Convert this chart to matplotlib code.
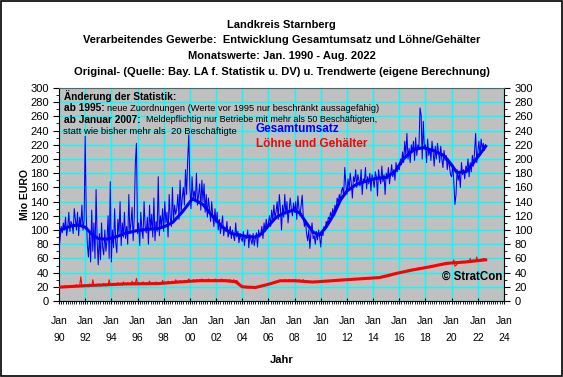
import numpy as np
import matplotlib
matplotlib.use("Agg")
import matplotlib.pyplot as plt
from matplotlib.patches import Rectangle

plt.rcParams["font.family"] = ["Liberation Sans", "DejaVu Sans"]

# --- data: monthly values Jan 1990 - Aug 2022 (Mio EURO) ---
umsatz_by_year = [
    [70, 88, 105, 96, 110, 100, 118, 92, 104, 125, 98, 112],      # 1990
    [108, 95, 130, 115, 100, 125, 92, 118, 105, 135, 100, 112],   # 1991
    [232, 120, 80, 62, 95, 55, 128, 70, 110, 60, 157, 85],        # 1992
    [51, 95, 58, 110, 75, 65, 100, 70, 85, 120, 60, 168],         # 1993
    [55, 100, 75, 130, 82, 68, 115, 95, 140, 78, 110, 90],        # 1994
    [125, 88, 105, 80, 150, 95, 110, 132, 85, 118, 195, 222],     # 1995
    [95, 110, 78, 125, 100, 88, 140, 105, 96, 118, 80, 135],      # 1996
    [100, 122, 90, 145, 85, 112, 98, 175, 92, 120, 105, 130],     # 1997
    [98, 140, 110, 125, 90, 150, 118, 105, 160, 112, 135, 122],   # 1998
    [130, 150, 115, 170, 125, 145, 160, 135, 185, 150, 200, 234], # 1999
    [160, 130, 175, 145, 155, 140, 180, 135, 150, 165, 128, 170], # 2000
    [140, 165, 125, 150, 118, 145, 130, 112, 140, 120, 105, 130], # 2001
    [110, 125, 100, 115, 95, 108, 120, 92, 104, 98, 112, 90],     # 2002
    [96, 105, 88, 100, 92, 85, 110, 90, 98, 82, 95, 88],          # 2003
    [84, 98, 78, 92, 88, 100, 75, 94, 86, 80, 95, 78],            # 2004
    [88, 96, 76, 100, 90, 95, 105, 88, 110, 98, 115, 102],        # 2005
    [110, 120, 105, 128, 112, 135, 118, 125, 140, 115, 150, 130], # 2006
    [100, 135, 118, 150, 122, 140, 110, 128, 145, 130, 120, 138], # 2007
    [125, 140, 115, 148, 130, 120, 135, 149, 118, 105, 112, 95],  # 2008
    [85, 100, 74, 95, 110, 88, 92, 80, 98, 86, 100, 90],          # 2009
    [76, 98, 92, 105, 100, 112, 108, 118, 115, 125, 118, 130],    # 2010
    [120, 135, 128, 145, 138, 150, 142, 155, 160, 148, 188, 165], # 2011
    [150, 172, 158, 180, 165, 145, 175, 168, 185, 160, 178, 170], # 2012
    [162, 185, 150, 172, 168, 188, 158, 175, 165, 180, 155, 178], # 2013
    [170, 160, 182, 175, 148, 185, 172, 165, 190, 168, 178, 150], # 2014
    [180, 172, 188, 165, 178, 192, 175, 185, 170, 195, 182, 188], # 2015
    [185, 200, 192, 210, 195, 225, 205, 236, 200, 215, 195, 220], # 2016
    [210, 225, 198, 230, 205, 220, 215, 272, 262, 200, 253, 215], # 2017
    [220, 195, 228, 205, 215, 198, 225, 210, 190, 218, 200, 222], # 2018
    [210, 195, 218, 200, 188, 212, 198, 205, 185, 200, 190, 178], # 2019
    [175, 192, 168, 136, 150, 185, 170, 180, 160, 195, 178, 185], # 2020
    [172, 190, 185, 200, 175, 195, 182, 205, 190, 210, 236, 195], # 2021
    [210, 225, 205, 228, 215, 222, 212, 220],                     # 2022
]

loehne_by_year = [
    [19, 20, 19, 21, 20, 20, 22, 19, 20, 21, 20, 22],
    [21, 20, 22, 21, 23, 21, 20, 22, 34, 22, 21, 23],
    [22, 21, 23, 20, 24, 22, 21, 30, 22, 23, 21, 24],
    [22, 24, 21, 23, 22, 25, 23, 21, 24, 22, 30, 23],
    [23, 22, 25, 23, 24, 22, 26, 23, 24, 25, 22, 27],
    [24, 25, 23, 26, 24, 25, 23, 28, 24, 26, 25, 32],
    [24, 26, 23, 25, 24, 27, 25, 24, 26, 23, 25, 28],
    [25, 24, 26, 25, 23, 27, 25, 24, 26, 25, 24, 29],
    [25, 27, 26, 25, 28, 26, 27, 25, 28, 27, 26, 30],
    [27, 28, 26, 29, 27, 28, 27, 29, 28, 27, 29, 31],
    [28, 29, 28, 30, 29, 28, 30, 29, 28, 30, 29, 31],
    [29, 30, 28, 30, 29, 31, 29, 30, 28, 30, 29, 31],
    [29, 30, 29, 30, 29, 31, 29, 30, 29, 30, 28, 30],
    [29, 30, 29, 28, 30, 29, 28, 29, 27, 25, 22, 21],
    [20, 21, 19, 20, 18, 19, 20, 18, 19, 20, 18, 19],
    [18, 19, 20, 19, 20, 21, 20, 22, 21, 23, 22, 24],
    [23, 24, 25, 24, 26, 25, 27, 26, 28, 27, 29, 28],
    [28, 29, 28, 30, 29, 28, 29, 30, 29, 28, 30, 29],
    [29, 30, 29, 28, 30, 29, 28, 29, 30, 28, 29, 28],
    [27, 28, 26, 27, 26, 27, 28, 26, 27, 26, 27, 28],
    [27, 28, 27, 28, 27, 29, 28, 27, 28, 29, 28, 29],
    [28, 29, 30, 29, 28, 30, 29, 31, 30, 29, 30, 31],
    [29, 30, 31, 30, 29, 31, 30, 32, 31, 30, 31, 32],
    [31, 32, 31, 33, 32, 31, 32, 33, 32, 31, 33, 32],
    [32, 33, 32, 34, 33, 32, 34, 33, 35, 34, 33, 35],
    [34, 35, 34, 36, 35, 37, 36, 38, 37, 39, 38, 40],
    [39, 40, 41, 40, 42, 41, 43, 42, 44, 43, 42, 45],
    [43, 44, 45, 44, 46, 45, 47, 46, 45, 47, 46, 48],
    [47, 48, 47, 49, 48, 50, 49, 48, 50, 49, 51, 50],
    [50, 51, 50, 52, 51, 53, 52, 51, 53, 52, 54, 53],
    [53, 54, 58, 49, 50, 52, 54, 53, 55, 54, 56, 55],
    [54, 56, 55, 57, 55, 60, 56, 57, 58, 56, 57, 62],
    [57, 58, 57, 59, 58, 60, 59, 58],
]

# trend values (own calculation), read at decimal years
umsatz_trend_x = [1990.0, 1990.5, 1991.0, 1991.5, 1992.0, 1992.5, 1993.0, 1993.6, 1994.3,
                  1995.0, 1995.9, 1996.8, 1997.6, 1998.2, 1998.7, 1999.4, 2000.2, 2001.0,
                  2001.7, 2002.5, 2003.2, 2004.3, 2005.0, 2005.5, 2006.0, 2006.6, 2007.2,
                  2007.9, 2008.4, 2008.9, 2009.4, 2009.9, 2010.4, 2011.0, 2011.5, 2012.0,
                  2012.7, 2013.5, 2014.3, 2015.0, 2015.7, 2016.3, 2017.1, 2017.8, 2018.6,
                  2019.4, 2019.9, 2020.4, 2021.1, 2021.6, 2022.2, 2022.6]
umsatz_trend_y = [99, 103, 106, 107, 104, 94, 88, 87, 90,
                  95, 99, 101, 102, 106, 111, 125, 144, 136,
                  120, 104, 95, 91, 90, 95, 106, 118, 124,
                  128, 124, 110, 97, 93, 104, 122, 142, 155,
                  164, 169, 173, 174, 183, 200, 213, 216, 212,
                  205, 194, 181, 182, 193, 208, 218]

loehne_trend_x = [1990.0, 1992.0, 1995.0, 1997.6, 1999.0, 2000.7, 2002.7, 2003.5, 2004.0,
                  2005.0, 2006.0, 2006.9, 2008.0, 2009.4, 2012.0, 2014.5, 2015.8, 2017.1,
                  2018.3, 2019.6, 2021.1, 2022.6]
loehne_trend_y = [19.5, 21.5, 24, 24.5, 26.5, 28.6, 28.6, 27, 20,
                  19, 23.5, 28.5, 28.5, 26.7, 30, 33, 39, 44,
                  48, 53, 55, 58]

x_ticks = list(range(1990, 2025, 2))
x_labels = ["Jan\n%02d" % (y % 100) for y in x_ticks]

umsatz = np.concatenate([np.array(r, float) for r in umsatz_by_year])
loehne = np.concatenate([np.array(r, float) for r in loehne_by_year])
months = 1990 + np.arange(len(umsatz)) / 12.0

W, H = 563, 377
fig = plt.figure(figsize=(W / 100, H / 100), dpi=100)
fig.patch.set_facecolor("white")
fig.add_artist(Rectangle((0.001, 0.002), 0.997, 0.995, transform=fig.transFigure,
                         fill=False, edgecolor="black", linewidth=1.2))

ax = fig.add_axes([59 / W, 1 - 301 / H, 445 / W, 213 / H])
ax.set_facecolor("#C0C0C0")

# raw monthly series and trends
ax.plot(months, umsatz, color="#0000FF", lw=0.75, zorder=3)
ax.plot(umsatz_trend_x, umsatz_trend_y, color="#0000FF", lw=2.2, zorder=4)
ax.plot(months, loehne, color="#FF0000", lw=0.75, zorder=3)
ax.plot(loehne_trend_x, loehne_trend_y, color="#FF0000", lw=2.2, zorder=4)

ax.set_xlim(1990, 2024)
ax.set_ylim(0, 300)
ax.set_xticks(x_ticks)
ax.set_xticklabels(x_labels, fontsize=7.5, linespacing=1.9)
ax.set_xticks(np.arange(1990, 2024, 1 / 6), minor=True)
ax.set_yticks(range(0, 301, 20))
ax.set_yticks(range(0, 301, 10), minor=True)
ax.tick_params(axis="both", which="major", length=4, width=0.8, labelsize=8)
ax.tick_params(axis="x", which="major", direction="inout", length=5, pad=8, labelsize=7.5)
ax.tick_params(axis="both", which="minor", length=2, width=0.6)
ax.tick_params(axis="y", which="both", right=True, labelright=True)
ax.grid(True, which="major", color="#00FFFF", lw=1.0, zorder=1)
ax.set_axisbelow(True)
for s in ax.spines.values():
    s.set_color("black")
    s.set_linewidth(0.8)
ax.spines["top"].set_color("#606060")

ax.set_ylabel("Mio EURO", fontsize=7.5, fontweight="bold", labelpad=0)
ax.set_xlabel("Jahr", fontsize=8, fontweight="bold", labelpad=9)

# title block
titles = ["Landkreis Starnberg",
          "Verarbeitendes Gewerbe:  Entwicklung Gesamtumsatz und Löhne/Gehälter",
          "Monatswerte: Jan. 1990 - Aug. 2022",
          "Original- (Quelle: Bay. LA f. Statistik u. DV) u. Trendwerte (eigene Berechnung)"]
for i, t in enumerate(titles):
    fig.text(281.5 / W, 1 - (24.5 + 15.8 * i) / H, t, ha="center", va="center",
             fontsize=8, fontweight="bold")

# notes about statistics changes
def px(x, y):
    return x / W, 1 - y / H

fig.text(*px(64, 96), "Änderung der Statistik:", fontsize=7.3, fontweight="bold", va="center")
fig.text(*px(64, 108), "ab 1995:", fontsize=7.3, fontweight="bold", va="center")
fig.text(*px(107, 108), "neue Zuordnungen (Werte vor 1995 nur beschränkt aussagefähig)",
         fontsize=6.7, va="center")
fig.text(*px(64, 120), "ab Januar 2007:", fontsize=7.3, fontweight="bold", va="center")
fig.text(*px(146, 120), "Meldepflichtig nur Betriebe mit mehr als 50 Beschäftigten,",
         fontsize=6.5, va="center")
fig.text(*px(63, 131.5), "statt wie bisher mehr als  20 Beschäftigte", fontsize=6.8, va="center")

fig.text(*px(256, 129), "Gesamtumsatz", color="#0000FF", fontsize=8.5,
         fontweight="bold", va="center")
fig.text(*px(256, 144), "Löhne und Gehälter", color="#FF0000", fontsize=8.5,
         fontweight="bold", va="center")
fig.text(*px(442, 277), "© StratCon", color="black", fontsize=8.3,
         fontweight="bold", va="center")

fig.savefig("out.png", dpi=100, facecolor="white")
